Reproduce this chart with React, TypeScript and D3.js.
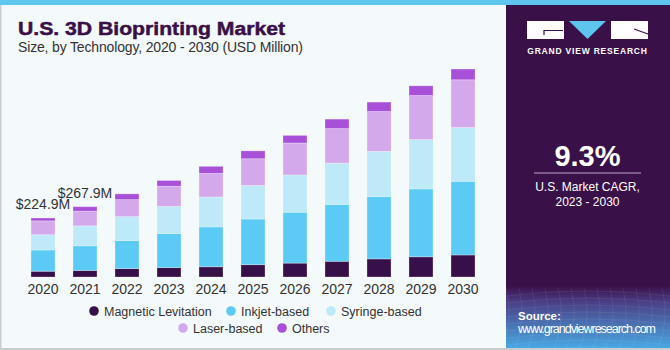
import React, { useEffect, useRef } from 'react';
import * as d3 from 'd3';

// values, USD million
const years = ['2020', '2021', '2022', '2023', '2024', '2025', '2026', '2027', '2028', '2029', '2030'];
const magnetic = [22, 25, 32, 36, 39, 47, 53, 60, 69, 77, 84];
const inkjet = [81, 94, 107, 130, 152, 174, 194, 217, 238, 259, 281];
const syringe = [58, 76, 91, 103, 114, 128, 142, 157, 172, 188, 205];
const laser = [53, 56, 65, 77, 90, 102, 122, 132, 152, 168, 182];
const others = [11, 17, 22, 22, 27, 30, 29, 36, 36, 37, 41];
const seriesNames = ['Magnetic Levitation', 'Inkjet-based', 'Syringe-based', 'Laser-based', 'Others'];
const seriesColors = ['#37104a', '#5bcbf5', '#bde9f9', '#d4a9ec', '#a850d8'];
const labeled = [{ year: '2020', text: '$224.9M' }, { year: '2021', text: '$267.9M' }];

const W = 670, H = 350;
const font = '"Liberation Sans", Arial, sans-serif';

export default function App() {
  const ref = useRef<SVGSVGElement>(null);

  useEffect(() => {
    const svg = d3.select(ref.current);
    svg.selectAll('*').remove();

    const defs = svg.append('defs');
    const grad = defs.append('linearGradient').attr('id', 'srcGrad')
      .attr('x1', 0).attr('y1', 0).attr('x2', 0).attr('y2', 1);
    grad.append('stop').attr('offset', '0%').attr('stop-color', '#3a1048');
    grad.append('stop').attr('offset', '25%').attr('stop-color', '#4b3d84');
    grad.append('stop').attr('offset', '100%').attr('stop-color', '#48a8e2');

    // background + frame
    svg.append('rect').attr('width', W).attr('height', H).attr('fill', '#f4f9fc');
    svg.append('rect').attr('x', 0).attr('y', 0).attr('width', 1.5).attr('height', H).attr('fill', '#c9cdd1');
    svg.append('rect').attr('x', 0).attr('y', H - 2).attr('width', W).attr('height', 2).attr('fill', '#c9cdd1');
    svg.append('rect').attr('x', 0).attr('y', 0).attr('width', W).attr('height', 5).attr('fill', '#5ec5ee');

    // right panel
    svg.append('rect').attr('x', 506).attr('y', 5).attr('width', W - 506).attr('height', 282).attr('fill', '#3a1048');
    svg.append('rect').attr('x', 506).attr('y', 286).attr('width', W - 506).attr('height', H - 288).attr('fill', 'url(#srcGrad)');

    // faint mesh in the source box
    const mesh = svg.append('g').attr('stroke', '#ffffff').attr('stroke-opacity', 0.12).attr('fill', 'none').attr('stroke-width', 0.6);
    for (let i = 0; i < 9; i++) {
      const y0 = 292 + i * 7;
      mesh.append('path').attr('d', `M506,${y0 + 4} Q588,${y0 - 6} 670,${y0 + 4}`);
    }
    for (let i = 0; i < 14; i++) {
      const x0 = 506 + i * 13;
      mesh.append('path').attr('d', `M${x0},288 Q${x0 + 8},320 ${x0 - 4},348`);
    }

    // logo
    const logo = svg.append('g');
    logo.append('rect').attr('x', 527).attr('y', 21).attr('width', 37).attr('height', 18).attr('fill', '#ffffff');
    logo.append('path').attr('d', 'M569,21 L606,21 L587.5,39 Z').attr('fill', '#5ec5ee');
    logo.append('rect').attr('x', 611).attr('y', 21).attr('width', 37).attr('height', 18).attr('fill', '#ffffff');
    logo.append('path').attr('d', 'M563,30.5 L544,30.5 L544,35').attr('stroke', '#3a1048').attr('stroke-width', 1.2).attr('fill', 'none');
    logo.append('path').attr('d', 'M634,29 L648,34').attr('stroke', '#3a1048').attr('stroke-width', 1.2).attr('fill', 'none');
    logo.append('text').attr('x', 587.5).attr('y', 54).attr('text-anchor', 'middle')
      .attr('font-family', font).attr('font-weight', 'bold').attr('font-size', 8.5)
      .attr('letter-spacing', 0.8).attr('fill', '#ffffff').text('GRAND VIEW RESEARCH');

    // CAGR
    svg.append('text').attr('x', 587.5).attr('y', 166).attr('text-anchor', 'middle')
      .attr('font-family', font).attr('font-weight', 'bold').attr('font-size', 29).attr('fill', '#ffffff').text('9.3%');
    svg.append('line').attr('x1', 534).attr('x2', 641).attr('y1', 173).attr('y2', 173).attr('stroke', '#b9a9c4').attr('stroke-width', 1);
    svg.append('text').attr('x', 587.5).attr('y', 191).attr('text-anchor', 'middle')
      .attr('font-family', font).attr('font-size', 12).attr('fill', '#ffffff').text('U.S. Market CAGR,');
    svg.append('text').attr('x', 587.5).attr('y', 206).attr('text-anchor', 'middle')
      .attr('font-family', font).attr('font-size', 12).attr('fill', '#ffffff').text('2023 - 2030');

    // source
    svg.append('text').attr('x', 518).attr('y', 320).attr('font-family', font).attr('font-weight', 'bold')
      .attr('font-size', 11.5).attr('fill', '#ffffff').text('Source:');
    svg.append('text').attr('x', 518).attr('y', 333).attr('font-family', font)
      .attr('font-size', 12.5).attr('fill', '#ffffff').attr('textLength', 138).text('www.grandviewresearch.com');

    // titles
    svg.append('text').attr('x', 18).attr('y', 35).attr('font-family', font).attr('font-weight', 900)
      .attr('font-size', 19).attr('fill', '#3a1048').attr('textLength', 267).attr('lengthAdjust', 'spacingAndGlyphs')
      .attr('stroke', '#3a1048').attr('stroke-width', 0.5).text('U.S. 3D Bioprinting Market');
    svg.append('text').attr('x', 18).attr('y', 52).attr('font-family', font)
      .attr('font-size', 14).attr('fill', '#333333').attr('textLength', 285).text('Size, by Technology, 2020 - 2030 (USD Million)');

    // chart
    const x = d3.scaleBand().domain(years).range([22, 484]).paddingInner(18 / 42).paddingOuter(9 / 42);
    const y = d3.scaleLinear().domain([0, 800]).range([277, 67.2]);

    const rows = years.map((yr, i) => ({
      year: yr, m: magnetic[i], i: inkjet[i], s: syringe[i], l: laser[i], o: others[i],
    }));
    const keys = ['m', 'i', 's', 'l', 'o'];
    const stacked = d3.stack<any>().keys(keys)(rows);

    const g = svg.append('g');
    stacked.forEach((layer, k) => {
      g.append('g').attr('fill', seriesColors[k])
        .selectAll('rect').data(layer).join('rect')
        .attr('x', d => x(d.data.year)!)
        .attr('width', x.bandwidth())
        .attr('y', d => y(d[1]))
        .attr('height', d => y(d[0]) - y(d[1]))
        .attr('stroke', '#ffffff').attr('stroke-opacity', 0.35).attr('stroke-width', 0.8);
    });

    const xAxis = d3.axisBottom(x).tickSize(0).tickPadding(5);
    const ax = svg.append('g').attr('transform', 'translate(0,277)').call(xAxis);
    ax.select('.domain').remove();
    ax.selectAll('text').attr('font-family', font).attr('font-size', 14).attr('fill', '#333333').attr('dy', '0.85em');

    const totals = years.map((_, i) => magnetic[i] + inkjet[i] + syringe[i] + laser[i] + others[i]);
    labeled.forEach(lb => {
      const idx = years.indexOf(lb.year);
      svg.append('text').attr('x', x(lb.year)! + x.bandwidth() / 2).attr('y', y(totals[idx]) - 9)
        .attr('text-anchor', 'middle').attr('font-family', font).attr('font-size', 14).attr('fill', '#333333').text(lb.text);
    });

    // legend
    const legendPos = [
      { cx: 94, cy: 311 }, { cx: 231, cy: 311 }, { cx: 331, cy: 311 },
      { cx: 183, cy: 328 }, { cx: 282, cy: 328 },
    ];
    const lg = svg.append('g');
    seriesNames.forEach((name, k) => {
      const p = legendPos[k];
      lg.append('circle').attr('cx', p.cx).attr('cy', p.cy).attr('r', 4.8).attr('fill', seriesColors[k]);
      lg.append('text').attr('x', p.cx + 10).attr('y', p.cy + 4.5).attr('font-family', font)
        .attr('font-size', 12.5).attr('fill', '#333333').text(name);
    });
  }, []);

  return (
    <div style={{ position: 'absolute', left: 0, top: 0 }}>
      <svg ref={ref} width={W} height={H} style={{ display: 'block' }} />
    </div>
  );
}
